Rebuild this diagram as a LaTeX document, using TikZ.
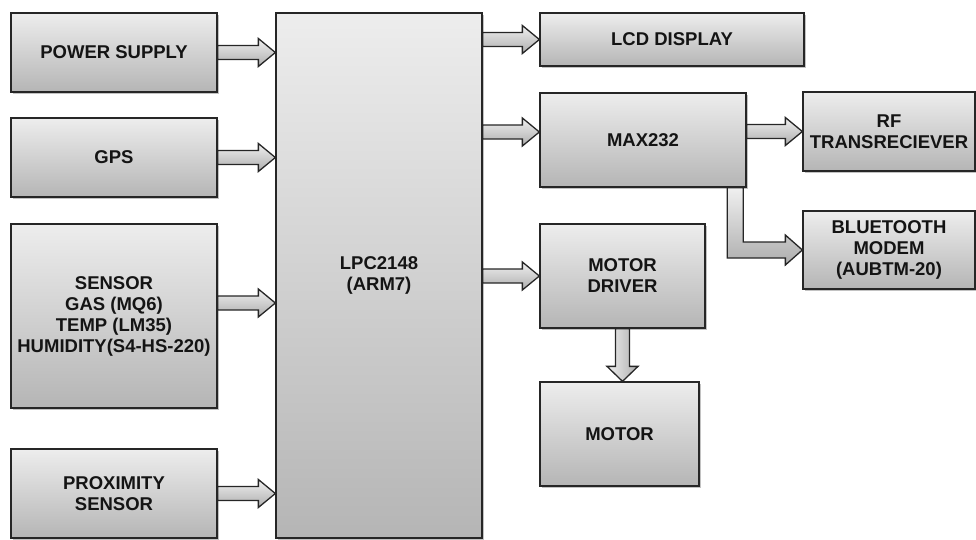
\documentclass[tikz,border=0pt]{standalone}
\usepackage{fontspec}
\setmainfont{Liberation Sans}
\usetikzlibrary{calc,shadows}
\tikzset{
  blk/.style={draw=black!85, line width=1.3pt, top color=black!7, bottom color=black!29,
    align=center, font=\fontsize{18.5}{21}\selectfont\bfseries, text=black!92, inner sep=0pt,
    drop shadow={shadow xshift=2pt, shadow yshift=-2pt, fill=black!40, opacity=0.6}},
  arr/.style={draw=black!85, line width=1.3pt, line join=miter, top color=black!6, bottom color=black!32},
}
\newcommand\harr[2]{%
  \path[arr] let \p1=(#1), \p2=(#2) in
    (\x1,\y1+7pt) -- (\x2-17pt,\y1+7pt) -- (\x2-17pt,\y1+14pt) -- (\x2,\y1)
    -- (\x2-17pt,\y1-14pt) -- (\x2-17pt,\y1-7pt) -- (\x1,\y1-7pt) -- cycle;}
\begin{document}
\begin{tikzpicture}[x=1pt,y=-1pt]
\useasboundingbox (0,0) rectangle (976,539);
\clip (0,0) rectangle (976,539);
% boxes
\node[blk, minimum width=206pt, minimum height=79pt] (ps) at (114,52.5) {POWER SUPPLY};
\node[blk, minimum width=206pt, minimum height=79pt] (gps) at (114,157.5) {GPS};
\node[blk, minimum width=206pt, minimum height=184pt] (sen) at (114,316) {SENSOR\\GAS (MQ6)\\TEMP (LM35)\\HUMIDITY(S4-HS-220)};
\node[blk, minimum width=206pt, minimum height=89pt] (prox) at (114,493.5) {PROXIMITY\\SENSOR};
\node[blk, minimum width=206pt, minimum height=525pt] (lpc) at (379,275.5) {LPC2148\\(ARM7)};
\node[blk, minimum width=264pt, minimum height=53pt] (lcd) at (672,39.5) {LCD DISPLAY};
\node[blk, minimum width=206pt, minimum height=94pt] (max) at (643,140) {MAX232};
\node[blk, minimum width=172pt, minimum height=79pt] (rf) at (889,131.5) {RF\\TRANSRECIEVER};
\node[blk, minimum width=172pt, minimum height=78pt] (bt) at (889,250) {BLUETOOTH\\MODEM\\(AUBTM-20)};
\node[blk, minimum width=165pt, minimum height=104pt] (md) at (622.5,276) {MOTOR\\DRIVER};
\node[blk, minimum width=159pt, minimum height=104pt] (mot) at (619.5,434) {MOTOR};
% arrows
\harr{ps.east}{ps.east -| lpc.west}
\harr{gps.east}{gps.east -| lpc.west}
\coordinate (senout) at ([yshift=13pt]sen.east);
\harr{senout}{senout -| lpc.west}
\harr{prox.east}{prox.east -| lpc.west}
\harr{lpc.east |- lcd.west}{lcd.west}
\coordinate (maxin) at ([yshift=8pt]max.west);
\harr{maxin -| lpc.east}{maxin}
\harr{lpc.east |- md.west}{md.west}
\harr{max.east |- rf.west}{rf.west}
% bent arrow MAX232 -> Bluetooth
\coordinate (maxout) at ([xshift=-11.5pt]max.south east);
\path[arr] let \p1=(maxout), \p2=(bt.west) in
  (\x1-8pt,\y1) -- (\x1-8pt,\y2-8pt) -- (\x2-17pt,\y2-8pt) -- (\x2-17pt,\y2-15pt)
  -- (\x2,\y2) -- (\x2-17pt,\y2+15pt) -- (\x2-17pt,\y2+8pt) -- (\x1+8pt,\y2+8pt)
  -- (\x1+8pt,\y1) -- cycle;
% down arrow motor driver -> motor
\path[arr, left color=black!6, right color=black!32] let \p1=(md.south), \p2=(md.south |- mot.north) in
  (\x1-7pt,\y1) -- (\x1-7pt,\y2+15pt) -- (\x1-15.5pt,\y2+15pt) -- (\x2,\y2)
  -- (\x1+15.5pt,\y2+15pt) -- (\x1+7pt,\y2+15pt) -- (\x1+7pt,\y1) -- cycle;
\end{tikzpicture}
\end{document}
